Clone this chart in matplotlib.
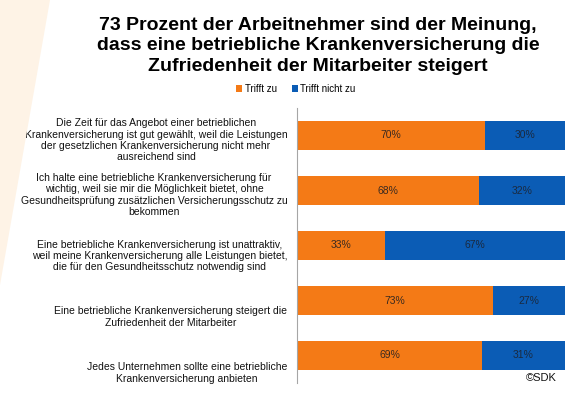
import numpy as np
import matplotlib.pyplot as plt
from matplotlib.patches import Polygon
from matplotlib.transforms import offset_copy

plt.rcParams['font.family'] = ['Liberation Sans', 'DejaVu Sans']

categories = [
    'Die Zeit für das Angebot einer betrieblichen\nKrankenversicherung ist gut gewählt, weil die Leistungen\nder gesetzlichen Krankenversicherung nicht mehr\nausreichend sind',
    'Ich halte eine betriebliche Krankenversicherung für\nwichtig, weil sie mir die Möglichkeit bietet, ohne\nGesundheitsprüfung zusätzlichen Versicherungsschutz zu\nbekommen',
    'Eine betriebliche Krankenversicherung ist unattraktiv,\nweil meine Krankenversicherung alle Leistungen bietet,\ndie für den Gesundheitsschutz notwendig sind',
    'Eine betriebliche Krankenversicherung steigert die\nZufriedenheit der Mitarbeiter',
    'Jedes Unternehmen sollte eine betriebliche\nKrankenversicherung anbieten',
]
trifft_zu = [70, 68, 33, 73, 69]
trifft_nicht_zu = [30, 32, 67, 27, 31]

orange = '#F47A16'
blue = '#0B5CB5'

fig = plt.figure(figsize=(5.78, 3.93), dpi=100)
fig.patch.set_facecolor('white')

# light wedge in the top-left corner
fig.patches.append(Polygon([[0, 1], [50 / 578, 1], [0, 1 - 285 / 393]], closed=True,
                           transform=fig.transFigure, facecolor='#FEF3E6', edgecolor='none', zorder=0))

ax = fig.add_axes([297 / 578, 10 / 393, 268 / 578, 275 / 393])
ax.set_facecolor('none')

y = np.arange(len(categories))
zu = np.array(trifft_zu) / 100
nicht = np.array(trifft_nicht_zu) / 100
b1 = ax.barh(y, zu, height=0.51, color=orange, label='Trifft zu')
b2 = ax.barh(y, nicht, left=zu, height=0.51, color=blue, label='Trifft nicht zu')

for i in range(len(y)):
    ax.text(zu[i] / 2, y[i], f'{trifft_zu[i]}%', ha='center', va='center', fontsize=7.5, color='#3a2a20')
    ax.text(zu[i] + nicht[i] / 2, y[i], f'{trifft_nicht_zu[i]}%', ha='center', va='center', fontsize=7.5, color='#1a2a40')

ax.set_xlim(0, 1)
ax.set_ylim(len(categories) - 0.5, -0.5)
ax.set_xticks([])
ax.set_yticks(y)
ax.set_yticklabels(categories, fontsize=7.5, color='#111111', multialignment='center', linespacing=1.15)
ax.tick_params(axis='y', length=0, pad=7)
for s in ['top', 'right', 'bottom']:
    ax.spines[s].set_visible(False)
ax.spines['left'].set_color('#A6A6A6')
ax.spines['left'].set_linewidth(0.8)

# shift the wrapped labels down a bit like the original
shifts = [3, 3, 9, 15, 16]
for lbl, d in zip(ax.get_yticklabels(), shifts):
    lbl.set_transform(offset_copy(lbl.get_transform(), fig=fig, x=0, y=-d, units='dots'))

fig.text(318 / 578, 1 - 46 / 393,
         '73 Prozent der Arbeitnehmer sind der Meinung,\ndass eine betriebliche Krankenversicherung die\nZufriedenheit der Mitarbeiter steigert',
         ha='center', va='center', fontsize=14, fontweight='bold', linespacing=1.3)

fig.legend(handles=[b1, b2], loc='center', bbox_to_anchor=(296 / 578, 1 - 89 / 393), ncol=2,
           frameon=False, fontsize=7, handlelength=0.6, handleheight=0.6, handletextpad=0.3, columnspacing=1.5)

fig.text(557 / 578, 1 - 378 / 393, '©SDK', ha='right', va='center', fontsize=8, color='#111111')

fig.savefig('out.png', dpi=100)
